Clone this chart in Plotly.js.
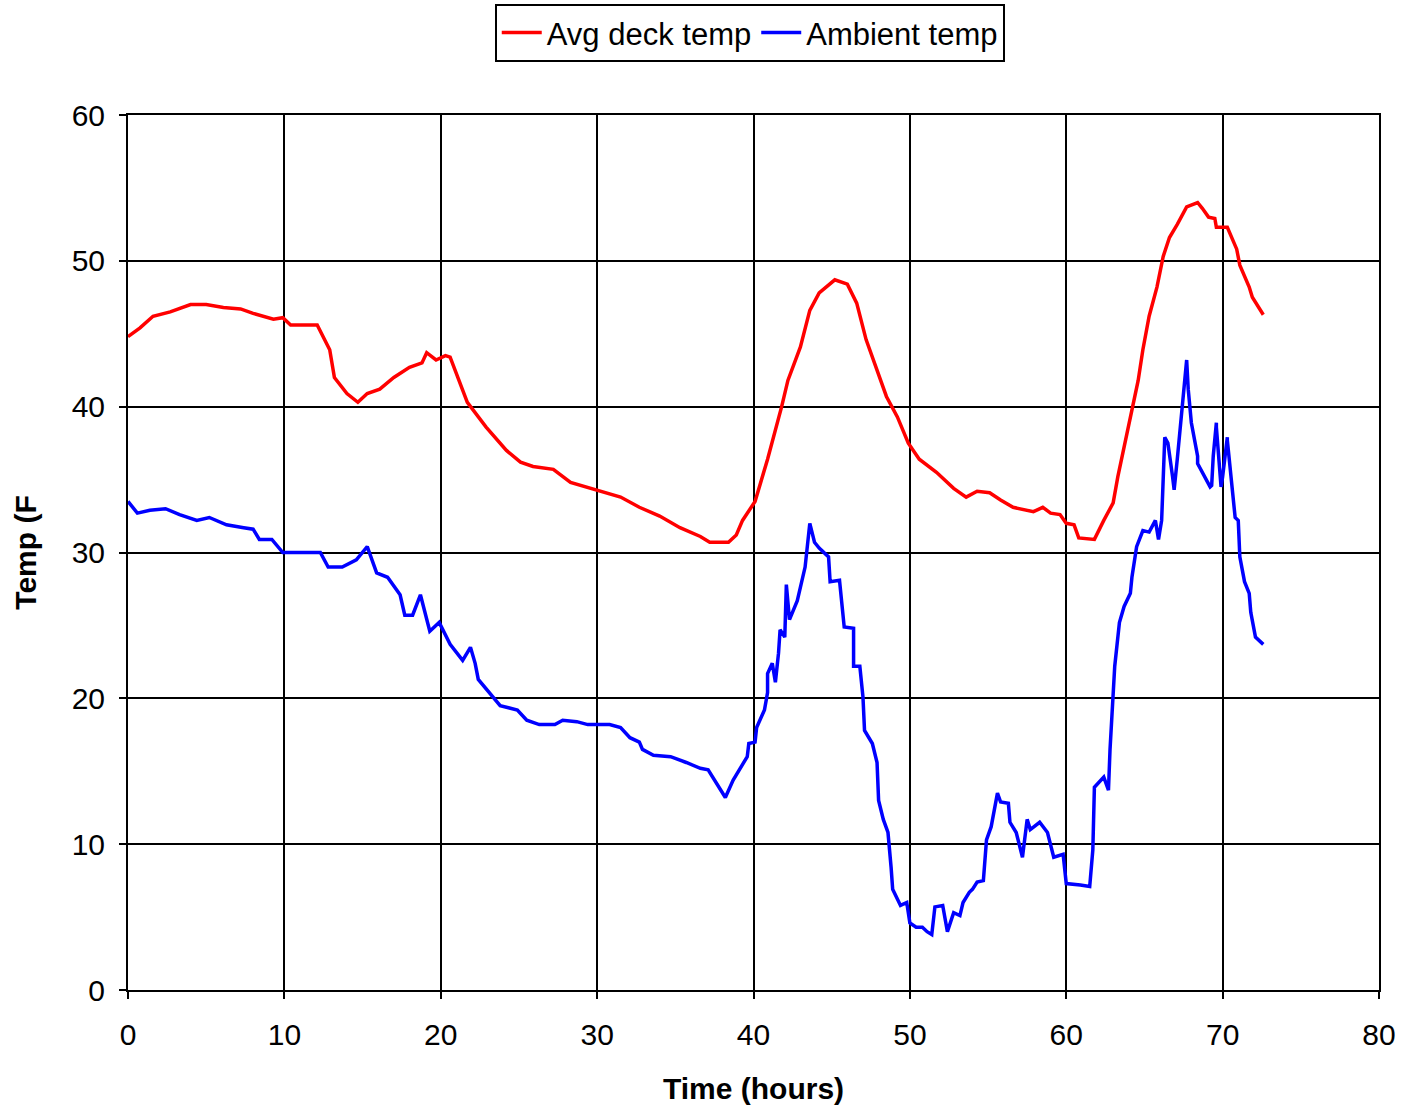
<!DOCTYPE html>
<html>
<head>
<meta charset="utf-8">
<script src="https://cdn.plot.ly/plotly-3.0.1.min.js"></script>
<style>html,body{margin:0;padding:0;background:#fff;}#chart{width:1406px;height:1108px;}</style>
</head>
<body>
<div id="chart"></div>
<script>
const deckHours = [0,0.77,1.6,2.7,4.0,5.0,6.1,7.2,8.0,9.3,9.9,10.4,12.1,12.9,13.2,14.0,14.7,15.3,16.1,17.0,18.0,18.8,19.1,19.7,20.3,20.6,21.7,22.9,24.2,25.1,25.9,27.2,28.3,29.3,30.1,31.5,32.7,34.0,35.3,36.6,37.2,38.4,38.9,39.3,40.1,40.9,41.8,42.2,43.0,43.6,44.2,45.2,46.0,46.6,47.2,47.9,48.5,49.2,49.9,50.6,51.7,52.8,53.6,54.3,55.1,55.8,56.6,57.9,58.5,59.0,59.6,60.0,60.5,60.8,61.8,62.4,63.0,63.3,63.7,64.2,64.6,64.9,65.3,65.8,66.2,66.6,67.1,67.7,68.4,68.7,69.1,69.5,69.6,70.3,70.9,71.1,71.7,71.9,72.6];
const deckTemp = [44.8,45.4,46.2,46.5,47.0,47.0,46.8,46.7,46.4,46.0,46.1,45.6,45.6,43.9,42.0,40.9,40.3,40.9,41.2,42.0,42.7,43.0,43.7,43.2,43.5,43.4,40.3,38.6,37.0,36.2,35.9,35.7,34.8,34.5,34.2,33.8,33.1,32.5,31.7,31.1,30.7,30.7,31.2,32.2,33.5,36.4,40.0,41.8,44.1,46.6,47.8,48.7,48.4,47.1,44.6,42.5,40.7,39.3,37.5,36.4,35.5,34.4,33.8,34.2,34.1,33.6,33.1,32.8,33.1,32.7,32.6,32.0,31.9,31.0,30.9,32.2,33.4,35.2,37.2,39.8,41.8,43.9,46.2,48.2,50.3,51.6,52.5,53.7,54.0,53.6,53.0,52.9,52.3,52.3,50.8,49.7,48.2,47.5,46.3];

const ambHours = [0,0.6,1.4,2.4,3.3,4.4,5.2,6.3,7.4,8.0,8.4,9.2,9.9,12.3,12.8,13.7,14.6,15.3,15.9,16.6,17.4,17.7,18.2,18.7,19.3,19.9,20.6,21.4,21.9,22.2,22.4,23.8,24.9,25.5,26.3,27.3,27.8,28.7,29.4,30.8,31.5,32.1,32.7,32.9,33.6,34.7,35.7,36.6,37.1,37.5,38.2,38.7,39.1,39.6,39.7,40.1,40.2,40.7,40.9,40.9,41.2,41.4,41.6,41.7,42.0,42.1,42.3,42.8,43.3,43.6,43.9,44.2,44.8,44.9,45.5,45.7,45.8,46.4,46.4,46.8,47.0,47.1,47.6,47.9,48.0,48.3,48.6,48.8,48.9,49.4,49.8,50.0,50.4,50.8,51.1,51.4,51.6,52.1,52.4,52.8,53.2,53.4,53.8,54.0,54.3,54.7,54.9,55.2,55.6,55.8,56.3,56.4,56.8,57.2,57.5,57.7,58.3,58.8,59.2,59.8,60.0,60.9,61.5,61.7,61.8,62.4,62.7,62.8,63.1,63.4,63.7,64.1,64.2,64.5,64.9,65.3,65.7,65.9,66.1,66.3,66.5,66.8,66.9,67.1,67.3,67.5,67.7,67.8,68.0,68.4,68.4,69.2,69.3,69.4,69.6,69.6,69.9,70.0,70.3,70.3,70.8,71.0,71.1,71.4,71.7,71.8,72.1,72.6];
const ambTemp = [33.5,32.7,32.9,33.0,32.6,32.2,32.4,31.9,31.7,31.6,30.9,30.9,30.0,30.0,29.0,29.0,29.5,30.4,28.6,28.3,27.1,25.7,25.7,27.1,24.6,25.2,23.7,22.6,23.5,22.4,21.3,19.5,19.2,18.5,18.2,18.2,18.5,18.4,18.2,18.2,18.0,17.3,17.0,16.5,16.1,16.0,15.6,15.2,15.1,14.4,13.2,14.4,15.1,16.0,16.9,17.0,18.0,19.2,20.4,21.7,22.4,21.1,23.1,24.7,24.2,27.8,25.4,26.7,29.0,32.0,30.7,30.3,29.7,28.0,28.1,26.1,24.9,24.8,22.2,22.2,20.1,17.8,16.9,15.6,13.0,11.7,10.8,8.4,6.9,5.8,6.0,4.6,4.3,4.3,4.0,3.8,5.7,5.8,4.0,5.3,5.1,6.0,6.7,6.9,7.4,7.5,10.3,11.2,13.5,12.9,12.8,11.5,10.8,9.1,11.7,11.0,11.5,10.8,9.1,9.3,7.3,7.2,7.1,9.6,13.9,14.6,13.7,16.5,22.2,25.2,26.3,27.2,28.3,30.4,31.5,31.4,32.2,30.9,32.2,37.9,37.5,35.2,34.3,36.4,38.6,41.2,43.2,41.2,38.9,36.6,36.1,34.5,34.6,36.6,38.9,38.6,34.5,35.2,37.9,37.7,32.4,32.2,29.7,28.0,27.2,25.9,24.2,23.7,23.0];

const seriesNames = ["Avg deck temp", "Ambient temp"];
const xTickVals = [0,10,20,30,40,50,60,70,80];
const yTickVals = [0,10,20,30,40,50,60];

const traces = [
  {x: deckHours, y: deckTemp, name: seriesNames[0], type: "scatter", mode: "lines",
   line: {color: "#ff0000", width: 3.5}},
  {x: ambHours, y: ambTemp, name: seriesNames[1], type: "scatter", mode: "lines",
   line: {color: "#0000ff", width: 3.5}}
];

const fontFam = "Liberation Sans, Arial, sans-serif";
const layout = {
  width: 1406, height: 1108,
  margin: {l: 128, r: 27, t: 115, b: 118, autoexpand: false},
  paper_bgcolor: "#ffffff", plot_bgcolor: "#ffffff",
  font: {family: fontFam, size: 30, color: "#000"},
  showlegend: true,
  legend: {orientation: "h", x: 0.497, xanchor: "center", y: 1.127, yanchor: "top",
    bordercolor: "#000", borderwidth: 2, font: {size: 31, family: fontFam, color: "#000"},
    itemwidth: 40, tracegroupgap: 0},
  xaxis: {range: [0, 80], tickvals: xTickVals, ticktext: xTickVals.map(String),
    showgrid: true, gridcolor: "#000", gridwidth: 2, zeroline: false,
    showline: true, linecolor: "#000", linewidth: 2, mirror: true,
    ticks: "outside", ticklen: 7, tickwidth: 2, tickcolor: "#000",
    ticklabelstandoff: 10,
    tickfont: {size: 30, family: fontFam},
    title: {text: "<b>Time (hours)</b>", font: {size: 30, family: fontFam}, standoff: 28}},
  yaxis: {range: [0, 60], tickvals: yTickVals, ticktext: yTickVals.map(String),
    showgrid: true, gridcolor: "#000", gridwidth: 2, zeroline: false,
    showline: true, linecolor: "#000", linewidth: 2, mirror: true,
    ticks: "outside", ticklen: 7, tickwidth: 2, tickcolor: "#000",
    ticklabelstandoff: 8,
    tickfont: {size: 30, family: fontFam},
    title: {text: "<b>Temp (F</b>", font: {size: 30, family: fontFam}, standoff: 26}}
};

Plotly.newPlot("chart", traces, layout, {displayModeBar: false, staticPlot: true});
</script>
</body>
</html>
